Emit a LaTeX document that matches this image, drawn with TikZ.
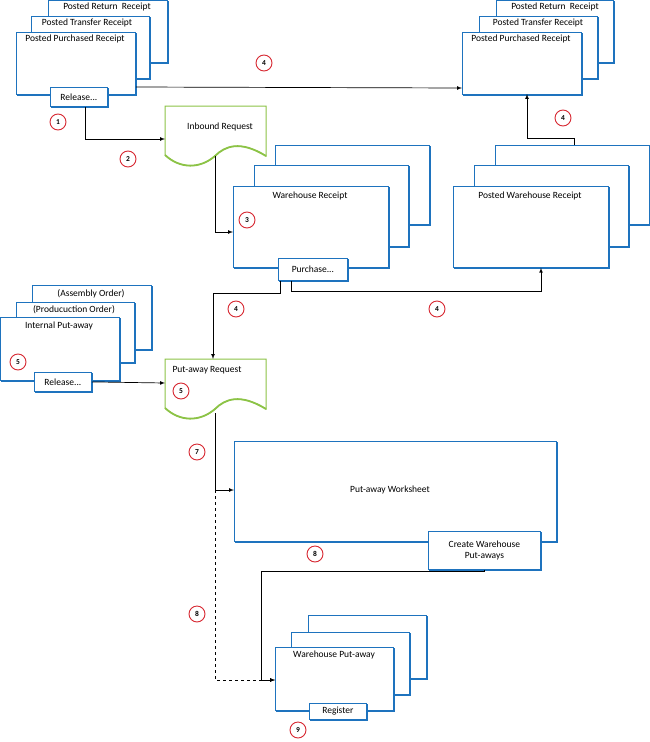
\documentclass[tikz,border=0pt]{standalone}
\usepackage{fontspec}
\setmainfont{Carlito}
\begin{document}
\begin{tikzpicture}[x=1pt,y=-1pt,
  box/.style={draw=bblue,fill=white,line width=0.8pt,anchor=north west,inner sep=0pt},
  btn/.style={draw=bblue,fill=white,line width=0.8pt,anchor=north west,inner sep=0pt,font=\fontsize{9.5}{11}\selectfont,align=center},
  txt/.style={font=\fontsize{9.5}{11}\selectfont,inner sep=1pt},
  num/.style={circle,draw=nred,fill=white,line width=0.9pt,minimum size=16pt,inner sep=0pt,font=\fontsize{7.5}{8}\selectfont\bfseries},
  doc/.style={draw=dgreen,fill=white,line width=1pt},
  con/.style={line width=0.7pt,-latex},
  shd/.style={draw=bblue,line width=1.4pt}]
\definecolor{bblue}{RGB}{30,115,190}
\definecolor{nred}{RGB}{215,40,50}
\definecolor{dgreen}{RGB}{140,195,70}
\useasboundingbox (0,0) rectangle (650,742);
\newcommand\shd[1]{\draw[shd] ([yshift=-1pt]#1.north east)--(#1.south east)--([xshift=1pt]#1.south west);}
\newcommand\bx[5]{\node[box,minimum width=#4-#2,minimum height=#5-#3] (#1) at (#2,#3) {};\shd{#1}}
\newcommand\docshape[3]{\draw[doc] (#1,#2)--(#1+101,#2)--(#1+101,#2+50) .. controls (#1+75,#2+34) and (#1+60,#2+40) .. (#1+50,#2+50) .. controls (#1+35,#2+63) and (#1+15,#2+63) .. (#1,#2+49) -- cycle;
\draw[dgreen,line width=1.8pt] (#1+101,#2+50) .. controls (#1+75,#2+34) and (#1+60,#2+40) .. (#1+50,#2+50) .. controls (#1+35,#2+63) and (#1+15,#2+63) .. (#1,#2+49);
\coordinate (#3) at (#1,#2);}
% top-left stack
\bx{tlA}{48}{0}{167}{62}
\node[txt,anchor=north] at (107,2) {Posted Return\ \ Receipt};
\bx{tlB}{31}{16}{149}{78}
\node[txt,anchor=north] at (87,18) {Posted Transfer Receipt};
\bx{tlC}{16}{32}{135}{94}
\node[txt,anchor=north] (tlT) at (75,34) {Posted Purchased Receipt};
\node[btn,minimum width=57,minimum height=19] (rel1) at (50,87) {Release...};\shd{rel1}
% top-right stack
\bx{trA}{496}{0}{613}{62}
\node[txt,anchor=north] at (555,2) {Posted Return\ \ Receipt};
\bx{trB}{479}{16}{597}{78}
\node[txt,anchor=north] at (538,18) {Posted Transfer Receipt};
\bx{trC}{462}{32}{581}{94}
\node[txt,anchor=north] at (521,34) {Posted Purchased Receipt};
% inbound request
\docshape{165}{106}{ir}
\node[txt] (irT) at (220,127) {Inbound Request};
\coordinate (irL) at (165,139); \coordinate (irB) at (215,156);
% warehouse receipt
\bx{wrA}{275}{145}{429}{224}
\bx{wrB}{254}{165}{408}{246}
\bx{wrC}{233}{186}{388}{267}
\node[txt] at (310,196) {Warehouse Receipt};
\node[btn,minimum width=69,minimum height=22] (pur) at (278,258) {Purchase...};\shd{pur}
% posted warehouse receipt
\bx{pwA}{495}{145}{649}{224}
\bx{pwB}{474}{165}{628}{246}
\bx{pwC}{453}{186}{608}{267}
\node[txt] at (530,196) {Posted Warehouse Receipt};
% internal put-away
\bx{ipA}{32}{285}{151}{349}
\node[txt] at (91,294) {(Assembly Order)};
\bx{ipB}{16}{302}{134}{362}
\node[txt] at (74,310) {(Producuction Order)};
\bx{ipC}{0}{317}{119}{380}
\node[txt] at (59,326) {Internal Put-away};
\node[btn,minimum width=57,minimum height=19] (rel2) at (34,372) {Release...};\shd{rel2}
% put-away request
\docshape{165}{359}{pr}
\node[txt] at (207,370) {Put-away Request};
% put-away worksheet
\bx{pws}{234}{441}{556}{541}
\node[txt] at (390,490) {Put-away Worksheet};
\node[btn,minimum width=112,minimum height=38] (cwp) at (428,531) {Create Warehouse\\Put-aways};\shd{cwp}
% warehouse put-away
\bx{wpA}{308}{615}{426}{678}
\bx{wpB}{291}{632}{409}{694}
\bx{wpC}{275}{647}{393}{710}
\node[txt] at (334,655) {Warehouse Put-away};
\node[btn,minimum width=57,minimum height=16] (reg) at (309,703) {Register};\shd{reg}
% numbers
\node[num] at (58,122) {1};
\node[num] at (128,159) {2};
\node[num] at (264,63) {4};
\node[num] at (247,220) {3};
\node[num] at (563,118) {4};
\node[num] at (236,309) {4};
\node[num] at (437,309) {4};
\node[num] at (18,362) {5};
\node[num] at (181,391) {5};
\node[num] at (197,452) {7};
\node[num] at (315,554) {8};
\node[num] at (197,614) {8};
\node[num] at (298,730) {9};
% connectors
\draw[con] ([xshift=6pt]rel1.south) |- (irL);
\draw[con] (tlC.east |- 0,87) -- (trC.west |- 0,88);
\draw[con] (irB) |- (wrC.west |- 0,232);
\draw[con] (pwA.north -| 574,0) -- (574,138) -| (527,94);
\draw[con] ([xshift=-22pt]pur.south) |- (541,291) -- (pwC.south -| 541,0);
\draw[con] ([xshift=-33pt]pur.south) |- (213,293) -- (213,359);
\draw[con] (rel2.east) -- (165,383);
\draw[con] (215,413) |- (pws.west |- 0,490);
\draw[con,dashed] (215,490) |- (wpC.west |- 0,680);
\draw[con] (cwp.south) |- (261,571) |- (wpC.west |- 0,680);
\end{tikzpicture}
\end{document}
